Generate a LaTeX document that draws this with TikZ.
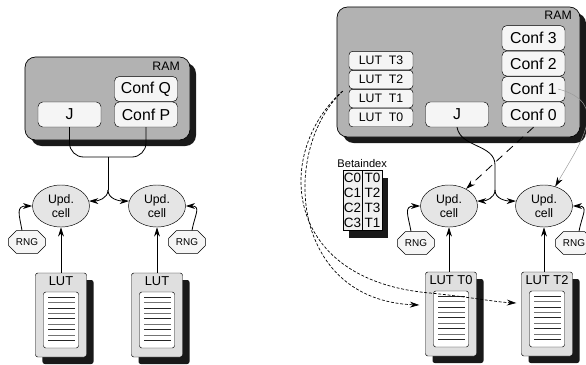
\documentclass[tikz,border=0pt]{standalone}
\usepackage{fontspec}
\setmainfont{Liberation Sans}
\usetikzlibrary{arrows.meta, positioning, shapes.geometric, shapes.misc, shadows, calc}
\tikzset{%
	ram/.style={draw, rectangle, rounded corners=9pt, fill=gray!60, line width=0.6pt,%
		drop shadow={shadow xshift=0.18cm, shadow yshift=-0.18cm, fill=black!90, opacity=1}},
	ramname/.style={inner sep=0mm, font=\fontsize{10.5}{12}\selectfont},
	membox/.style={draw, rectangle, rounded corners=4pt, fill=gray!8, minimum width=1.89cm,%
		minimum height=0.75cm, inner sep=0mm, font=\fontsize{13.5}{15}\selectfont},
	lutcell/.style={draw, rectangle, rounded corners=3pt, fill=gray!8, minimum width=1.92cm,%
		minimum height=0.555cm, inner sep=0mm, font=\fontsize{10.5}{12}\selectfont},
	upd/.style={draw, ellipse, fill=gray!20, minimum width=1.71cm, minimum height=1.26cm,%
		inner sep=0mm, align=center, font=\fontsize{10.5}{12.5}\selectfont},
	rng/.style={draw, chamfered rectangle, chamfered rectangle xsep=0.15cm, fill=gray!8,%
		minimum width=1.1cm, minimum height=0.68cm, inner sep=0mm, font=\fontsize{8.5}{10}\selectfont},
	lut/.style={draw, rectangle, rounded corners=2pt, fill=gray!25, minimum width=1.53cm,%
		minimum height=2.52cm, drop shadow={shadow xshift=0.21cm, shadow yshift=-0.21cm,%
		fill=black!90, opacity=1}},
	lutname/.style={inner sep=0mm, font=\fontsize{11}{12}\selectfont},
	sheet/.style={draw, rectangle, rounded corners=2pt, fill=white, minimum width=1.05cm,%
		minimum height=1.68cm},
	sheetline/.style={line width=0.6pt, black!85},
	sheetlight/.style={line width=0.6pt, black!55},
	betacol/.style={draw, rectangle, fill=gray!12, minimum height=1.8cm, inner sep=0.5pt,%
		align=center, font=\fontsize{11.5}{12.8}\selectfont,%
		drop shadow={shadow xshift=0.18cm, shadow yshift=-0.24cm, fill=black!90, opacity=1}},
	bus/.style={line width=0.7pt},
	feed/.style={line width=0.7pt, -{Stealth[length=8pt, width=5pt]}},
	thinfeed/.style={line width=0.4pt, draw=gray!80, -{Stealth[length=8pt, width=5pt, color=black]}},
	confdash/.style={feed, dash pattern=on 7pt off 5pt},
	lutlink/.style={line width=0.6pt, dash pattern=on 2.5pt off 1.5pt, -{Stealth[length=8pt, width=5pt]}}
}
\newcommand{\lutstack}[4]{%
	\node[lut] (#1) at (#2,#3) {};
	\node[lutname, anchor=north] (#1t) at ($(#1.north)+(0,3.5)$) {#4};
	\node[sheet] (#1p) at ($(#1.center)+(0,5)$) {};
	\foreach \k in {1,3,...,9}
		\draw[sheetline] ($(#1p.north west)+(5,5.4*\k)$) -- ($(#1p.north east)+(-4,5.4*\k)$);
	\foreach \k in {2,4,...,8}
		\draw[sheetlight] ($(#1p.north west)+(5,5.4*\k)$) -- ($(#1p.north east)+(-4,5.4*\k)$);
}

\begin{document}
\begin{tikzpicture}[x=0.03cm, y=-0.03cm]
	\useasboundingbox (0,0) rectangle (586,365);
	\clip (0,0) rectangle (586,365);

	% single configuration
	\node[ram, minimum width=4.95cm, minimum height=2.49cm] (ramA) at (107.5,98.5) {};
	\node[ramname, anchor=north east] (ramAt) at (180,62) {RAM};
	\node[membox] (confP) at (146,114.5) {Conf P};
	\node[membox, above=0pt of confP] (confQ) {Conf Q};
	\node[membox] (jA) at (69.5,114.5) {J};
	\coordinate (forkA) at (108,157);
	\coordinate (splitA) at (108,190);

	\node[upd] (updA) at (61,206) {Upd.\\cell};
	\node[upd] (updB) at (157,206) {Upd.\\cell};
	\node[rng] (rngA) at (27,242) {RNG};
	\node[rng] (rngB) at (187,242) {RNG};
	\lutstack{lutA}{61}{315}{LUT}
	\lutstack{lutB}{157}{315}{LUT}

	\draw[bus, rounded corners=12pt] (jA.south) |- (forkA) -| (confP.south);
	\draw[bus] (forkA) -- (splitA);
	\draw[feed] (splitA) to[out=-90, in=0] (updA.10);
	\draw[feed] (splitA) to[out=-90, in=180] (updB.170);
	\draw[feed] ($(rngA.north)+(-5,0)$) to[out=100, in=180, looseness=1.6] (updA.west);
	\draw[feed] ($(rngB.north)+(5,0)$) to[out=80, in=0, looseness=1.6] (updB.east);
	\draw[feed] (lutA.north) -- (updA.south);
	\draw[feed] (lutB.north) -- (updB.south);

	% replicas with shared tables
	\node[ram, minimum width=7.29cm, minimum height=3.9cm] (ramB) at (458.5,72) {};
	\node[ramname, anchor=north east] (ramBt) at (572,11) {RAM};
	\node[membox] (conf0) at (533.5,114.5) {Conf 0};
	\node[membox, above=0pt of conf0] (conf1) {Conf 1};
	\node[membox, above=0pt of conf1] (conf2) {Conf 2};
	\node[membox, above=0pt of conf2] (conf3) {Conf 3};
	\node[lutcell] (lutT0) at (381,117.5) {LUT\ \ T0};
	\node[lutcell, above=0pt of lutT0] (lutT1) {LUT\ \ T1};
	\node[lutcell, above=0pt of lutT1] (lutT2) {LUT\ \ T2};
	\node[lutcell, above=0pt of lutT2] (lutT3) {LUT\ \ T3};
	\node[membox] (jB) at (457,114.5) {J};
	\coordinate (lutsrc) at ($(lutT1.north west)+(-6,2)$);
	\coordinate (bendB) at (495,165);
	\coordinate (splitB) at (495,190);

	\node[betacol, minimum width=0.57cm] (betaC) at (352.5,200) {C0\\C1\\C2\\C3};
	\node[betacol, minimum width=0.6cm, right=0pt of betaC] (betaT) {T0\\T2\\T3\\T1};
	\node[ramname, font=\fontsize{9.5}{11}\selectfont, anchor=south] (betaL) at ($(betaC.north east)+(0,-2)$) {Betaindex};

	\node[upd] (updC) at (449,206) {Upd.\\cell};
	\node[upd] (updD) at (544,206) {Upd.\\cell};
	\node[rng] (rngC) at (416,243) {RNG};
	\node[rng] (rngD) at (574,243) {RNG};
	\lutstack{lutC}{451}{314}{LUT T0}
	\lutstack{lutD}{547}{314}{LUT T2}

	\draw[bus] (jB.south) to[out=-80, in=90] (bendB) -- (splitB);
	\draw[feed] (splitB) to[out=-90, in=0] (updC.10);
	\draw[feed] (splitB) to[out=-90, in=180] (updD.170);
	\draw[confdash] (conf0.south) -- (updC.45);
	\draw[thinfeed] ($(conf1.east)+(-7,0)$) to[out=-15, in=60, looseness=1.4] (updD.60);
	\draw[feed] ($(rngC.north)+(-5,0)$) to[out=100, in=180, looseness=1.6] (updC.west);
	\draw[feed] ($(rngD.north)+(5,0)$) to[out=80, in=0, looseness=1.6] (updD.east);
	\draw[feed] (updC.south |- lutC.north) -- (updC.south);
	\draw[feed] (updD.south |- lutD.north) -- (updD.south);
	\draw[lutlink] (lutsrc) .. controls (280,150) and (290,300) .. ($(lutC.west)+(-6,-9)$);
	\draw[lutlink] (lutsrc) .. controls (275,150) and (280,280) .. (430,293)
		.. controls (470,297) and (495,302) .. ($(lutD.west)+(-5,-11)$);
\end{tikzpicture}
\end{document}
